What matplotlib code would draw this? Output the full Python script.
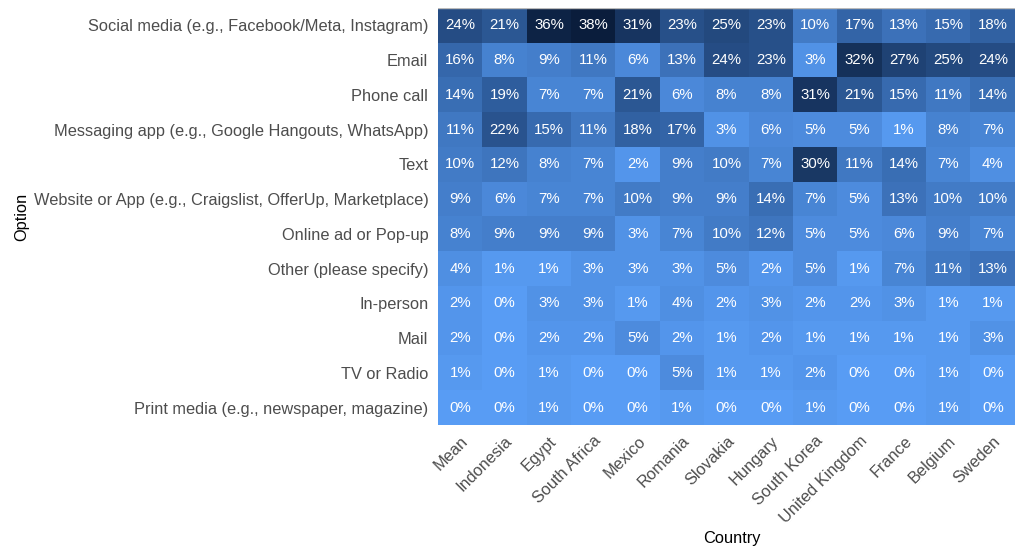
import matplotlib
matplotlib.use("Agg")
import matplotlib.pyplot as plt
import numpy as np
from matplotlib.colors import LinearSegmentedColormap

plt.rcParams['font.family'] = ['Liberation Sans', 'DejaVu Sans']

options = ["Social media (e.g., Facebook/Meta, Instagram)", "Email", "Phone call",
           "Messaging app (e.g., Google Hangouts, WhatsApp)", "Text",
           "Website or App (e.g., Craigslist, OfferUp, Marketplace)", "Online ad or Pop-up",
           "Other (please specify)", "In-person", "Mail", "TV or Radio",
           "Print media (e.g., newspaper, magazine)"]
countries = ["Mean", "Indonesia", "Egypt", "South Africa", "Mexico", "Romania", "Slovakia",
             "Hungary", "South Korea", "United Kingdom", "France", "Belgium", "Sweden"]
values = [
    [24, 21, 36, 38, 31, 23, 25, 23, 10, 17, 13, 15, 18],
    [16, 8, 9, 11, 6, 13, 24, 23, 3, 32, 27, 25, 24],
    [14, 19, 7, 7, 21, 6, 8, 8, 31, 21, 15, 11, 14],
    [11, 22, 15, 11, 18, 17, 3, 6, 5, 5, 1, 8, 7],
    [10, 12, 8, 7, 2, 9, 10, 7, 30, 11, 14, 7, 4],
    [9, 6, 7, 7, 10, 9, 9, 14, 7, 5, 13, 10, 10],
    [8, 9, 9, 9, 3, 7, 10, 12, 5, 5, 6, 9, 7],
    [4, 1, 1, 3, 3, 3, 5, 2, 5, 1, 7, 11, 13],
    [2, 0, 3, 3, 1, 4, 2, 3, 2, 2, 3, 1, 1],
    [2, 0, 2, 2, 5, 2, 1, 2, 1, 1, 1, 1, 3],
    [1, 0, 1, 0, 0, 5, 1, 1, 2, 0, 0, 1, 0],
    [0, 0, 1, 0, 0, 1, 0, 0, 1, 0, 0, 1, 0],
]

data = np.array(values, dtype=float)
cmap = LinearSegmentedColormap.from_list("gg", ["#589CF4", "#2F5E9E", "#0A1D3C"])

fig = plt.figure(figsize=(10.15, 5.5), dpi=100)
ax = fig.add_axes([438/1015, 1 - 425/550, 577/1015, 417/550])
ax.imshow(data, cmap=cmap, aspect="auto", vmin=0, vmax=38, interpolation="nearest")
for i in range(data.shape[0]):
    for j in range(data.shape[1]):
        ax.text(j, i, f"{int(values[i][j])}%", ha="center", va="center",
                color="white", fontsize=10.8)

ax.set_xticks(range(len(countries)))
ax.set_xticklabels(countries, rotation=45, ha="right", rotation_mode="anchor",
                   fontsize=11.8, color="#4D4D4D")
ax.set_yticks(range(len(options)))
ax.set_yticklabels(options, fontsize=11.8, color="#4D4D4D")
ax.tick_params(axis="y", length=0, pad=7)
ax.tick_params(axis="x", length=0, pad=6)
for s in ax.spines.values():
    s.set_visible(False)
ax.axhline(-0.5, color="#BBBBBB", lw=1)
ax.set_xlabel("Country", fontsize=11.8, labelpad=6)
ax.xaxis.set_label_coords((732 - 438) / 577, -0.255)
ax.set_ylabel("Option", fontsize=11.8, labelpad=3)
fig.savefig("out.png", dpi=100)
